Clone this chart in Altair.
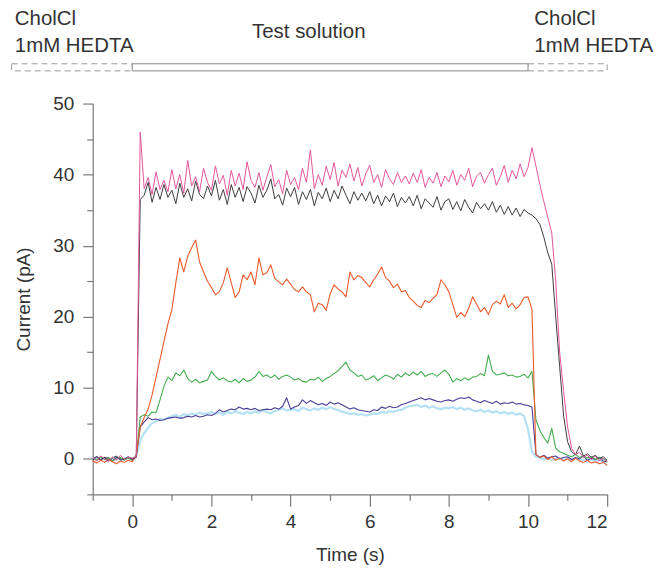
import altair as alt
import pandas as pd

# time grid (s), one sample every 0.1 s from -1.0 to 12.0
TIME = [round(-1.0 + 0.1 * i, 1) for i in range(131)]

PINK = [
    0.2, -0.3, 0.4, 0.0, -0.4, 0.3, -0.2, 0.5, -0.1, 0.2,
    0.1, 0.3, 46.0, 38.0, 39.6, 37.2, 40.4, 37.9, 39.2, 37.6,
    40.7, 38.0, 40.0, 37.4, 42.0, 38.4, 39.7, 37.6, 40.9, 38.9,
    37.8, 41.2, 38.7, 39.9, 37.1, 40.6, 38.4, 40.2, 37.9, 41.8,
    39.2, 38.2, 40.3, 37.8, 39.7, 41.4, 38.3, 39.3, 37.3, 40.6,
    38.6, 39.6, 37.9, 40.9, 38.9, 43.5, 38.0, 40.0, 38.5, 41.2,
    39.3, 41.7, 38.4, 40.6, 39.6, 41.5, 39.1, 41.0, 38.4, 40.1,
    41.3, 38.9, 40.0, 38.2, 40.7, 39.4, 38.6, 40.3, 38.9, 39.8,
    38.7, 40.2, 38.9, 40.7, 38.2, 39.6, 38.8, 40.3, 38.3, 39.8,
    39.0, 40.6, 38.5, 40.0, 39.2, 40.9, 38.3, 39.8, 40.3, 38.8,
    40.0, 40.9, 38.5, 39.7, 41.3, 38.9, 40.6, 39.4, 41.5, 39.7,
    41.0, 43.8, 41.2, 38.6, 36.2, 34.0, 31.8, 25.0, 15.0, 9.5,
    4.5, 1.5, 0.6, 0.9, 0.2, 0.5, -0.1, 0.4, -0.3, 0.1,
    -0.4,
]

BLACK = [
    -0.2, 0.3, -0.1, 0.2, -0.3, 0.1, 0.4, -0.2, 0.0, 0.3,
    -0.1, 0.2, 36.5, 37.1, 38.9, 36.1, 38.2, 36.5, 38.6, 36.8,
    37.8, 35.9, 38.8, 36.8, 38.0, 36.3, 39.1, 37.2, 36.6, 38.4,
    37.0, 39.2, 36.4, 37.9, 35.8, 38.6, 36.8, 38.2, 36.2, 38.3,
    37.4, 36.0, 38.5, 36.8, 37.8, 39.4, 36.6, 37.2, 35.7, 38.1,
    36.9, 38.2, 35.8, 37.6, 36.5, 37.9, 35.6, 37.5, 36.6, 38.1,
    36.2, 37.8, 36.6, 38.4, 37.1, 35.9, 37.6, 36.4, 37.4, 36.3,
    37.6, 35.9, 37.1, 35.6, 37.0, 36.2, 37.4, 35.5, 36.8, 36.0,
    36.9, 35.6, 37.1, 35.2, 36.6, 36.0, 35.4, 36.9, 35.0, 36.2,
    36.6, 35.1, 36.2, 34.9, 36.5, 35.4, 34.6, 36.1, 35.2, 35.9,
    35.0, 36.2, 34.7, 35.7, 34.4, 35.5, 34.3, 35.3, 34.1, 35.1,
    34.6, 34.3, 33.8, 33.0, 31.2, 29.0, 27.4, 20.0, 13.0, 6.0,
    2.4, 1.0, 0.6, 1.8, 0.4, 0.7, 0.2, 0.5, 0.0, 0.3,
    -0.2,
]

ORANGE = [
    -0.3, -0.6, -0.2, -0.5, -0.1, -0.4, -0.7, -0.3, -0.5, -0.2,
    -0.4, 0.5, 4.5, 5.8, 7.0, 9.0, 11.5, 14.0, 16.5, 19.0,
    21.0, 24.8, 28.3, 26.3, 28.5, 29.7, 30.8, 27.7, 26.3, 25.0,
    24.1, 23.1, 23.5, 24.8, 26.9, 24.8, 22.7, 23.5, 25.9, 25.2,
    26.3, 24.5, 28.3, 25.9, 26.2, 27.3, 25.4, 24.9, 24.5, 25.3,
    24.6, 23.8, 23.5, 24.2, 23.5, 23.1, 20.7, 21.9, 21.7, 20.9,
    23.2, 24.5, 23.9, 23.5, 22.8, 26.3, 25.2, 25.8, 25.5, 24.8,
    24.2, 25.2, 26.0, 27.0, 25.5, 25.0, 24.1, 24.6, 23.5, 23.7,
    22.7, 22.2, 21.6, 21.3, 22.3, 22.0, 22.6, 23.1, 25.2, 24.5,
    23.5, 21.7, 19.9, 20.6, 20.0, 21.2, 22.8, 21.8, 20.7, 21.3,
    20.3, 21.7, 22.2, 21.8, 23.1, 21.3, 21.9, 21.1, 21.7, 22.7,
    22.8, 21.0, 0.6, 0.2, 0.4, -0.1, 0.3, -0.2, 0.1, -0.3,
    0.0, -0.4, 0.1, -0.3, -0.5, -0.2, -0.6, -0.4, -0.7, -0.5,
    -0.9,
]

GREEN = [
    0.1, -0.2, 0.3, -0.1, 0.2, -0.3, 0.0, 0.2, -0.2, 0.1,
    -0.2, 0.4, 5.9, 6.2, 6.0, 6.6, 6.5, 8.3, 10.2, 11.5,
    11.0, 12.1, 11.7, 12.5, 11.3, 10.8, 11.2, 10.7, 10.9, 11.1,
    12.3, 11.6, 11.1, 11.4, 11.0, 10.8, 11.2, 10.7, 11.3, 10.9,
    11.1, 11.5, 12.3, 11.6, 11.8, 11.4, 11.8, 11.2, 11.6, 11.8,
    11.5, 11.1, 11.3, 10.9, 10.8, 11.2, 11.1, 11.5, 10.9, 11.3,
    11.6, 12.0, 12.4, 13.0, 13.6, 12.5, 12.1, 11.6, 11.8, 11.1,
    11.3, 11.7, 11.0, 11.4, 11.8, 11.6, 11.2, 11.9, 11.5, 12.1,
    11.7, 12.2, 11.8, 12.3, 11.6, 11.9, 12.0, 11.6, 12.1, 12.5,
    11.9, 10.8, 11.3, 11.0, 11.4, 11.1, 11.5, 11.6, 12.0, 11.7,
    14.6, 12.3, 11.8, 11.9, 12.1, 11.7, 11.8, 11.5, 11.6, 11.9,
    11.4, 12.3, 5.5, 4.0, 3.0, 2.2, 4.3, 1.5, 1.0, 0.8,
    0.5, 0.3, 0.6, 0.2, 0.4, 0.1, 0.3, -0.1, 0.2, 0.0,
    -0.3,
]

BLUE = [
    0.0, 0.3, -0.2, 0.2, 0.1, -0.3, 0.2, 0.0, -0.1, 0.2,
    0.0, 0.3, 4.5, 5.2, 5.8, 5.5, 5.6, 5.4, 5.5, 5.7,
    5.8, 5.9, 5.7, 5.8, 6.0, 5.9, 6.1, 5.9, 6.0, 6.2,
    6.1, 6.4, 6.9, 6.6, 6.8, 7.0, 6.9, 7.3, 7.0, 7.1,
    6.9, 7.1, 6.8, 6.9, 7.0, 6.9, 7.2, 7.0, 7.4, 8.6,
    7.0, 7.3, 7.5, 8.3, 7.8, 8.2, 7.9, 7.6, 7.8, 7.5,
    8.0, 7.7, 7.9, 7.6, 7.3, 7.0, 7.2, 6.9, 6.8, 6.7,
    6.6, 6.9, 6.8, 7.3, 7.1, 7.4, 7.2, 7.3, 7.6, 7.8,
    8.0, 8.2, 8.4, 8.6, 8.3, 8.5, 8.3, 8.1, 8.0, 8.2,
    8.3, 8.1, 8.4, 8.6, 8.5, 8.7, 8.3, 8.1, 7.9, 8.2,
    8.0, 7.8, 8.1, 7.7, 7.9, 7.8, 8.0, 7.7, 7.8, 7.6,
    7.5, 7.3, 0.6, 0.2, 0.5, 0.1, 0.3, 0.4, 0.0, 0.2,
    0.3, -0.1, 0.2, 0.0, 0.4, -0.2, 0.1, -0.1, 0.2, -0.3,
    -0.4,
]

LIGHTBLUE = [
    0.1, -0.1, 0.2, 0.0, -0.2, 0.1, 0.3, -0.1, 0.0, 0.2,
    -0.1, 0.4, 2.6, 3.6, 4.4, 5.0, 5.3, 5.6, 5.5, 5.8,
    6.0, 6.2, 5.9, 6.3, 6.1, 6.4, 6.2, 6.5, 6.3, 6.4,
    6.6, 6.3, 6.5, 6.2, 6.6, 6.4, 6.7, 6.5, 6.3, 6.6,
    6.4, 6.7, 6.5, 6.8, 6.6, 6.4, 6.7, 6.9, 7.1, 6.8,
    6.9, 7.0, 6.7, 7.2, 7.0, 6.8, 7.1, 6.9, 7.2, 7.0,
    7.3, 7.0, 6.9, 6.6, 6.5, 6.3, 6.4, 6.2, 6.3, 6.1,
    6.2, 6.4, 6.3, 6.6, 6.5, 6.7, 6.6, 6.8, 6.9, 7.2,
    7.4, 7.5, 7.6, 7.3, 7.5, 7.2, 7.4, 7.1, 7.0, 7.2,
    7.1, 7.3, 7.0, 7.2, 6.9, 7.1, 6.8, 6.7, 6.9, 6.6,
    6.8, 6.5, 6.7, 6.4, 6.6, 6.3, 6.5, 6.2, 6.4, 6.0,
    4.2, 1.0, 0.3, 0.2, -0.1, 0.1, -0.2, 0.0, 0.1, -0.2,
    0.0, -0.3, 0.1, -0.2, -0.1, -0.4, 0.0, -0.3, -0.2, -0.4,
    -0.5,
]

# drawing order (back to front), colours and line widths
TRACE_NAMES = ["lightblue", "blue", "green", "orange", "black", "pink"]
TRACE_VALUES = [LIGHTBLUE, BLUE, GREEN, ORANGE, BLACK, PINK]
TRACE_COLORS = ["#a3d9f3", "#4a3d98", "#43ad50", "#ec5a2c", "#3d3d3d", "#e4559a"]
TRACE_WIDTHS = [2.2, 1.1, 1.1, 1.1, 1.0, 1.0]

# axis ticks
X_MAJOR = [0, 2, 4, 6, 8, 10, 12]
X_MINOR = [-1, 1, 3, 5, 7, 9, 11]
Y_MAJOR = [0, 10, 20, 30, 40, 50]
Y_MINOR = [-5, 5, 15, 25, 35, 45]

# solution bar annotation (time in s)
BAR_START = [-3.05, 0.0, 10.0]
BAR_END = [0.0, 10.0, 12.0]
BAR_KIND = ["control", "test", "control"]

LABEL_X = [-2.97, -2.97, 10.16, 10.16]
LABEL_Y = [61.9, 58.1, 61.9, 58.1]
LABEL_TEXT = ["CholCl", "1mM HEDTA", "CholCl", "1mM HEDTA"]
CENTER_LABEL_X = [4.46]
CENTER_LABEL_Y = [60.0]
CENTER_LABEL_TEXT = ["Test solution"]

FONT = "Liberation Sans"
TEXT_COLOR = "#333333"
AXIS_COLOR = "#7a7a7a"

xscale = alt.Scale(domain=[-1, 12], nice=False, zero=False)
yscale = alt.Scale(domain=[-5, 50], nice=False, zero=False)

xaxis = alt.Axis(
    title="Time (s)", orient="bottom", values=X_MAJOR, tickSize=12,
    labelPadding=6, titlePadding=14, grid=False,
)
yaxis = alt.Axis(
    title="Current (pA)", orient="left", values=Y_MAJOR, tickSize=10,
    labelPadding=9, titlePadding=19, grid=False,
)
xaxis_minor = alt.Axis(
    title="", orient="bottom", values=X_MINOR, tickSize=6,
    labels=False, domain=False, grid=False,
)
yaxis_minor = alt.Axis(
    title="", orient="left", values=Y_MINOR, tickSize=6,
    labels=False, domain=False, grid=False,
)

layers = []
for k, (name, vals, col, w) in enumerate(zip(TRACE_NAMES, TRACE_VALUES, TRACE_COLORS, TRACE_WIDTHS)):
    df = pd.DataFrame({"time": TIME, "current": vals})
    opacity = 0.8 if name == "lightblue" else 1.0
    layer = alt.Chart(df).mark_line(
        color=col, strokeWidth=w, opacity=opacity, strokeJoin="round"
    ).encode(
        x=alt.X("time:Q", scale=xscale, axis=xaxis if k == 0 else None),
        y=alt.Y("current:Q", scale=yscale, axis=yaxis if k == 0 else None),
    )
    layers.append(layer)

# invisible layer that only carries the minor-tick axes
minor = alt.Chart(pd.DataFrame({"time": [0.0], "current": [0.0]})).mark_point(opacity=0).encode(
    x=alt.X("time:Q", scale=xscale, axis=xaxis_minor),
    y=alt.Y("current:Q", scale=yscale, axis=yaxis_minor),
)

bars = pd.DataFrame({"x": BAR_START, "x2": BAR_END, "kind": BAR_KIND,
                     "y": [55.6] * 3, "y2": [54.6] * 3})
bar_test = alt.Chart(bars).transform_filter("datum.kind === 'test'").mark_rect(
    fill="white", stroke="#8a8a8a", strokeWidth=1
).encode(x=alt.X("x:Q", scale=xscale, axis=None), x2="x2:Q",
         y=alt.Y("y:Q", scale=yscale, axis=None), y2="y2:Q")
bar_ctrl = alt.Chart(bars).transform_filter("datum.kind === 'control'").mark_rect(
    fill="white", stroke="#9a9a9a", strokeWidth=1, strokeDash=[6, 4]
).encode(x=alt.X("x:Q", scale=xscale, axis=None), x2="x2:Q",
         y=alt.Y("y:Q", scale=yscale, axis=None), y2="y2:Q")

labels = pd.DataFrame({"x": LABEL_X, "y": LABEL_Y, "text": LABEL_TEXT})
center_labels = pd.DataFrame({"x": CENTER_LABEL_X, "y": CENTER_LABEL_Y,
                              "text": CENTER_LABEL_TEXT})
txt_left = alt.Chart(labels).mark_text(
    align="left", baseline="middle", font=FONT, fontSize=20.5, color=TEXT_COLOR
).encode(x=alt.X("x:Q", scale=xscale, axis=None),
         y=alt.Y("y:Q", scale=yscale, axis=None), text="text:N")
txt_center = alt.Chart(center_labels).mark_text(
    align="center", baseline="middle", font=FONT, fontSize=20.5, color=TEXT_COLOR
).encode(x=alt.X("x:Q", scale=xscale, axis=None),
         y=alt.Y("y:Q", scale=yscale, axis=None), text="text:N")

chart = alt.layer(*layers, minor, bar_ctrl, bar_test, txt_left, txt_center).resolve_axis(
    x="independent", y="independent"
).properties(
    width=516,
    height=392,
    autosize=alt.AutoSizeParams(type="none"),
    padding={"left": 85, "top": 95, "right": 50, "bottom": 74},
).configure_view(stroke=None).configure_axis(
    domainColor=AXIS_COLOR,
    tickColor=AXIS_COLOR,
    domainWidth=1.2,
    tickWidth=1.2,
    labelFont=FONT,
    labelFontSize=19,
    labelColor=TEXT_COLOR,
    titleFont=FONT,
    titleFontSize=19,
    titleColor=TEXT_COLOR,
    titleFontWeight="normal",
)

chart.save("out.html", embed_options={"renderer": "svg", "actions": False})
